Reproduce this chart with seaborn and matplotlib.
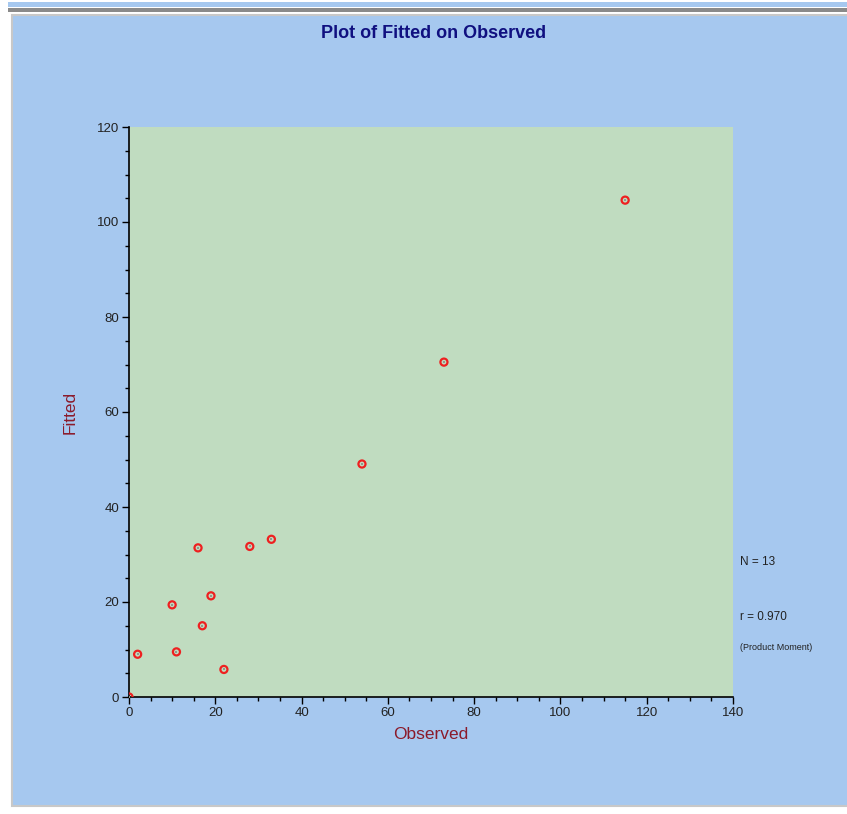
import numpy as np
import pandas as pd
import seaborn as sns
import matplotlib.pyplot as plt
from matplotlib.patches import Rectangle
from matplotlib.ticker import MultipleLocator

observed = [0, 2, 10, 11, 16, 17, 19, 22, 28, 33, 54, 73, 115]
fitted = [0, 9, 19.4, 9.5, 31.4, 15, 21.3, 5.8, 31.7, 33.2, 49.05, 70.5, 104.6]
n_text = "N = 13"
r_text = "r = 0.970"
r_note = "(Product Moment)"

df = pd.DataFrame({"Observed": observed, "Fitted": fitted})

sns.set_theme(style="white")
plt.rcParams['font.family'] = ['Liberation Sans', 'DejaVu Sans']

W, H = 847, 814
fig = plt.figure(figsize=(W / 100, H / 100), dpi=100)
fig.patch.set_facecolor("white")

# panel background and top band (behind the axes)
fig.add_artist(Rectangle((8 / W, 1 - 7 / H), 1, 5 / H, transform=fig.transFigure,
                         facecolor="#a6c8ef", edgecolor="none", zorder=-10))
fig.add_artist(Rectangle((8 / W, 1 - 12 / H), 1, 4 / H, transform=fig.transFigure,
                         facecolor="#8a8a8a", edgecolor="none", zorder=-10))
fig.add_artist(Rectangle((12 / W, 1 - 806 / H), 1, 791 / H, transform=fig.transFigure,
                         facecolor="#a6c8ef", edgecolor="#c8c8c8", linewidth=1.5,
                         zorder=-10))

ax = fig.add_axes([129 / W, 1 - 697 / H, 604 / W, 570 / H])
ax.set_facecolor("#c0dcc0")

sns.scatterplot(data=df, x="Observed", y="Fitted", ax=ax, marker="o", s=26,
                facecolor="none", edgecolor="#ee2020", linewidth=1.6, zorder=3)
sns.scatterplot(data=df, x="Observed", y="Fitted", ax=ax, marker="s", s=3,
                color="#909890", linewidth=0, zorder=4)

ax.set_xlim(0, 140)
ax.set_ylim(0, 120)
ax.xaxis.set_major_locator(MultipleLocator(20))
ax.xaxis.set_minor_locator(MultipleLocator(5))
ax.yaxis.set_major_locator(MultipleLocator(20))
ax.yaxis.set_minor_locator(MultipleLocator(5))
ax.tick_params(which="major", direction="out", length=5, width=1, color="black",
               labelsize=9.5, labelcolor="#222222", left=True, bottom=True, pad=2)
ax.tick_params(which="minor", direction="out", length=3, width=1, color="black",
               left=True, bottom=True)
for s in ["top", "right"]:
    ax.spines[s].set_visible(False)
for s in ["left", "bottom"]:
    ax.spines[s].set_color("black")
    ax.spines[s].set_linewidth(1.2)

ax.set_xlabel("Observed", color="#8b1a2a", fontsize=12.5, labelpad=6)
ax.set_ylabel("Fitted", color="#8b1a2a", fontsize=12.5, labelpad=14)

fig.text(434 / W, 1 - 33 / H, "Plot of Fitted on Observed", ha="center", va="center",
         color="#101080", fontsize=13, fontweight="bold")
fig.text(740 / W, 1 - 562 / H, n_text, ha="left", va="center", fontsize=8.5, color="#222222")
fig.text(740 / W, 1 - 617 / H, r_text, ha="left", va="center", fontsize=8.5, color="#222222")
fig.text(740 / W, 1 - 647 / H, r_note, ha="left", va="center", fontsize=6.5, color="#222222")

fig.savefig("out.png", dpi=100)
